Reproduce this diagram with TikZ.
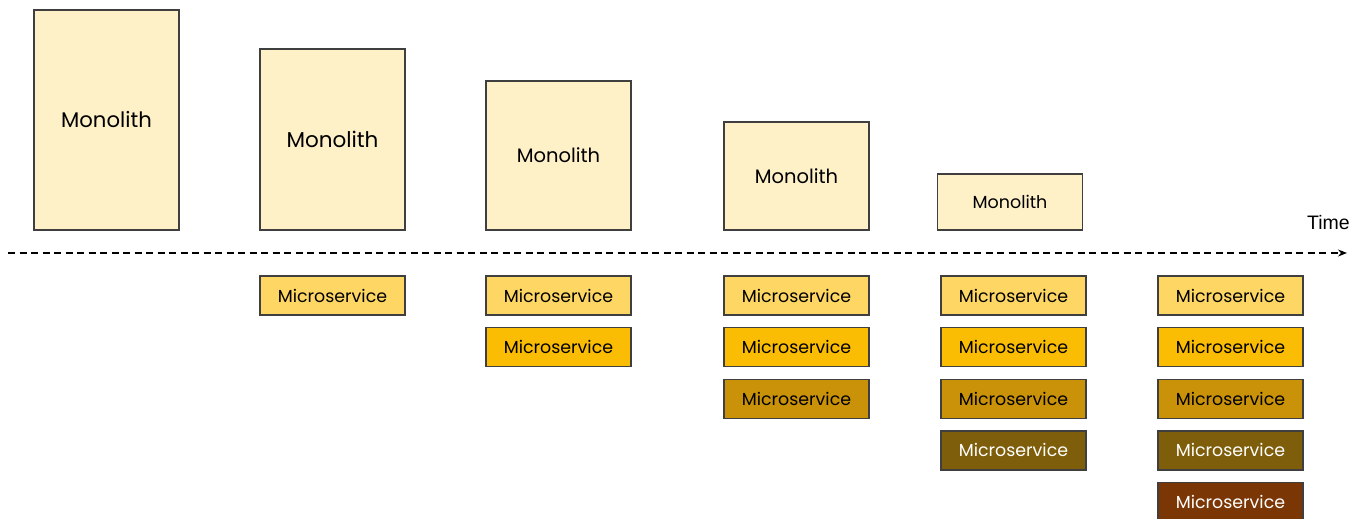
\documentclass[tikz,border=0pt]{standalone}
\usepackage{fontspec}
\setmainfont{Poppins}
\setsansfont{Liberation Sans}
\usetikzlibrary{positioning,arrows.meta}
\definecolor{monofill}{HTML}{FEF0C7}
\definecolor{boxline}{HTML}{3F3F3F}
\definecolor{msA}{HTML}{FDD663}
\definecolor{msB}{HTML}{FBBC04}
\definecolor{msC}{HTML}{C99208}
\definecolor{msD}{HTML}{7E5E0A}
\definecolor{msE}{HTML}{7B3606}
\tikzset{
  mono/.style={draw=boxline,line width=1.4pt,fill=monofill,minimum width=145pt,inner sep=0pt},
  micro/.style={draw=boxline,line width=1.4pt,minimum width=145pt,minimum height=39pt,inner sep=0pt,font=\fontsize{17.4}{20}\selectfont},
}
\begin{document}
\begin{tikzpicture}[x=1pt,y=-1pt,node distance=11.2pt]
\useasboundingbox[fill=white] (0,0) rectangle (1352,519);

% the monolith shrinks
\node[mono,minimum height=220pt,font=\fontsize{21.2}{24}\selectfont] (m1) at (106.5,120) {Monolith};
\node[mono,minimum height=181pt,font=\fontsize{21.5}{24}\selectfont] (m2) at (332.5,139.5) {Monolith};
\node[mono,minimum height=149pt,font=\fontsize{19.5}{22}\selectfont] (m3) at (558.5,155.5) {Monolith};
\node[mono,minimum height=108pt,font=\fontsize{19.5}{22}\selectfont] (m4) at (796.5,176) {Monolith};
\node[mono,minimum height=56pt,font=\fontsize{17.5}{20}\selectfont] (m5) at (1010,202) {Monolith};

% time axis
\coordinate (t0) at (8,253);
\coordinate (t1) at (1347,253);
\draw[line width=1.2pt,dash pattern=on 7pt off 4.5pt,-{Stealth[length=9pt,width=7pt]}] (t0) -- (t1);
\node[font=\sffamily\fontsize{19.5}{22}\selectfont,anchor=south east,inner sep=0pt] (time) at (1350,230) {Time};

% microservices grow
\node[micro,fill=msA] (a1) at (332.5,295.5) {Microservice};

\node[micro,fill=msA] (b1) at (558.5,295.5) {Microservice};
\node[micro,fill=msB,below=of b1] (b2) {Microservice};

\node[micro,fill=msA] (c1) at (796.5,295.5) {Microservice};
\node[micro,fill=msB,below=of c1] (c2) {Microservice};
\node[micro,fill=msC,below=of c2] (c3) {Microservice};

\node[micro,fill=msA] (d1) at (1013.5,295.5) {Microservice};
\node[micro,fill=msB,below=of d1] (d2) {Microservice};
\node[micro,fill=msC,below=of d2] (d3) {Microservice};
\node[micro,fill=msD,text=white,below=of d3] (d4) {Microservice};

\node[micro,fill=msA] (e1) at (1230.5,295.5) {Microservice};
\node[micro,fill=msB,below=of e1] (e2) {Microservice};
\node[micro,fill=msC,below=of e2] (e3) {Microservice};
\node[micro,fill=msD,text=white,below=of e3] (e4) {Microservice};
\node[micro,fill=msE,text=white,below=of e4] (e5) {Microservice};
\end{tikzpicture}
\end{document}
